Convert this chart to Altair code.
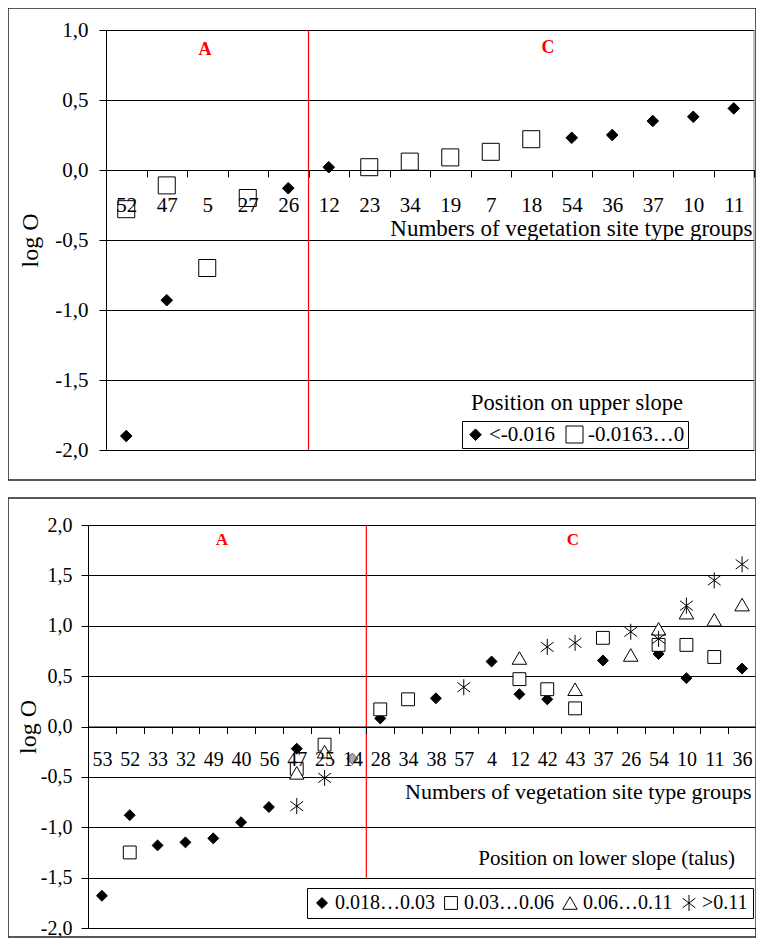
import altair as alt
import pandas as pd

FONT = "Liberation Serif"

# ---------------- data: upper slope ----------------
top_cats = ["52", "47", "5", "27", "26", "12", "23", "34", "19", "7", "18", "54", "36", "37", "10", "11"]
top_labels = ["<-0.016", "-0.0163…0"]
top_diamond = [-1.90, -0.93, None, None, -0.13, 0.02, None, None, None, None, None, 0.23, 0.25, 0.35, 0.38, 0.44]
top_square = [-0.28, -0.11, -0.70, -0.20, None, None, 0.02, 0.06, 0.09, 0.13, 0.22, None, None, None, None, None]
top_boundary = "12"
top_ticks = [-2.0, -1.5, -1.0, -0.5, 0.0, 0.5, 1.0]

# ---------------- data: lower slope (talus) ----------------
bot_cats = ["53", "52", "33", "32", "49", "40", "56", "47", "25", "14", "28", "34",
            "38", "57", "4", "12", "42", "43", "37", "26", "54", "10", "11", "36"]
bot_labels = ["0.018…0.03", "0.03…0.06", "0.06…0.11", ">0.11"]
bot_s1 = [-1.68, -0.88, -1.18, -1.15, -1.11, -0.95, -0.80, -0.22, None, -0.32, 0.08, None,
          0.28, None, 0.645, 0.32, 0.27, None, 0.655, None, 0.72, 0.48, None, 0.575]
bot_s2 = [None, -1.25, None, None, None, None, None, -0.42, -0.18, None, 0.17, 0.27,
          None, None, None, 0.47, 0.37, 0.18, 0.88, None, 0.81, 0.81, 0.69, None]
bot_s3 = [None, None, None, None, None, None, None, -0.46, -0.25, None, None, None,
          None, None, None, 0.68, None, 0.37, None, 0.71, 0.97, 1.13, 1.06, 1.21]
bot_s4 = [None, None, None, None, None, None, None, -0.79, -0.51, None, None, None,
          None, 0.39, None, None, 0.79, 0.83, None, 0.94, 0.87, 1.20, 1.45, 1.61]
bot_grey = ["14"]
bot_boundary = "28"
bot_ticks = [-2.0, -1.5, -1.0, -0.5, 0.0, 0.5, 1.0, 1.5, 2.0]

ASTER = "M0,-1L0,1M-0.8,-0.6L0.8,0.6M-0.8,0.6L0.8,-0.6"
YLAB = "(datum.value < 0 ? '-' : '') + replace(format(abs(datum.value), '.1f'), '.', ',')"

W, H = 668, 898  # whole drawing area shared by both panels


def to_long(cats, series, labels):
    rows = []
    for lab, vals in zip(labels, series):
        for c, v in zip(cats, vals):
            if v is not None:
                rows.append({"cat": c, "series": lab, "v": v})
    return pd.DataFrame(rows)


def panel(cats, df, labels, shapes, fills, sizes, boundary, rule_top, rule_bottom,
          x_range, y_range, ticks, fs, note_fs, xtitle_fs, x_label_pad, y_label_pad, ytitle_x,
          xtitle_x, xtitle_y, leg_x, leg_y, leg_pad, leg_colpad, border, zoneA, zoneC, zone_fs,
          note, note_pos, note_align, grey=None):
    ymin, ymax = ticks[0], ticks[-1]
    ybot, ytop = y_range
    axis_px = ytop + (ybot - ytop) * ymax / (ymax - ymin)
    xaxis = alt.Axis(orient="bottom", offset=axis_px - H, title="Numbers of vegetation site type groups",
                     titleX=xtitle_x, titleY=xtitle_y, titleAlign="right", titleBaseline="middle",
                     titleFont=FONT, titleFontSize=xtitle_fs, titleFontWeight="normal", titleColor="black",
                     labelFont=FONT, labelFontSize=fs, labelColor="black", labelAngle=0,
                     labelPadding=x_label_pad, labelOverlap=False, tickSize=7, tickBand="extent",
                     domainColor="black", tickColor="black", grid=False, zindex=1)
    xscale = alt.Scale(type="band", domain=cats, range=list(x_range), paddingInner=0, paddingOuter=0)
    yaxis = alt.Axis(orient="left", offset=-x_range[0], values=ticks, labelExpr=YLAB, title="log O",
                     titleX=ytitle_x, titleY=(ybot + ytop) / 2,
                     titleAngle=270, titleBaseline="middle", titleAlign="center",
                     titleFont=FONT, titleFontSize=24, titleFontWeight="normal", titleColor="black",
                     labelFont=FONT, labelFontSize=fs, labelColor="black", labelPadding=y_label_pad,
                     tickSize=7, domainColor="black", tickColor="black",
                     grid=True, gridColor="black", gridWidth=1, gridOpacity=1)
    yscale = alt.Scale(domain=[ymin, ymax], range=[ybot, ytop], nice=False, zero=False)

    def X(**kw):
        return alt.X("cat:N", scale=xscale, axis=xaxis, **kw)

    def Y():
        return alt.Y("v:Q", scale=yscale, axis=yaxis)

    bx0, bx1, by0, by1 = border
    frame = alt.Chart(pd.DataFrame({"k": [0]})).mark_rect(
        fill="transparent", stroke="#222222", strokeWidth=1.5
    ).encode(x=alt.value(bx0), x2=alt.value(bx1), y=alt.value(by0), y2=alt.value(by1))

    edge = alt.Chart(pd.DataFrame({"cat": [cats[-1]], "v": [ymax], "v2": [ymin]})).mark_rule(
        color="#808080", strokeWidth=1
    ).encode(x=X(bandPosition=1), y=Y(), y2="v2:Q")

    rule = alt.Chart(pd.DataFrame({"cat": [boundary], "v": [rule_top], "v2": [rule_bottom]})).mark_rule(
        color="#ff0000", strokeWidth=1.2
    ).encode(x=X(bandPosition=0), y=Y(), y2="v2:Q")

    leg = alt.Legend(title=None, orient="none", legendX=leg_x, legendY=leg_y, direction="horizontal",
                     strokeColor="black", fillColor="white", padding=leg_pad,
                     labelFont=FONT, labelFontSize=fs, labelColor="black", labelOffset=3,
                     columnPadding=leg_colpad, symbolOpacity=1, symbolStrokeWidth=1)
    pts = alt.Chart(df).mark_point(opacity=1, stroke="black", strokeWidth=1).encode(
        x=X(), y=Y(),
        shape=alt.Shape("series:N", scale=alt.Scale(domain=labels, range=shapes), legend=leg),
        fill=alt.Fill("series:N", scale=alt.Scale(domain=labels, range=fills), legend=leg),
        size=alt.Size("series:N", scale=alt.Scale(domain=labels, range=sizes), legend=leg),
    )
    layers = [frame, edge, rule, pts]
    if grey:
        gdf = df[(df["cat"].isin(grey)) & (df["series"] == labels[0])]
        layers.append(alt.Chart(gdf).mark_point(shape="diamond", filled=True, fill="#a8a8a8",
                                                stroke="#808080", strokeWidth=1, size=sizes[0], opacity=1)
                      .encode(x=X(), y=Y()))
    for txt, pos in (("A", zoneA), ("C", zoneC)):
        layers.append(alt.Chart(pd.DataFrame({"t": [txt]})).mark_text(
            color="#ff0000", fontWeight="bold", font=FONT, fontSize=zone_fs, baseline="middle"
        ).encode(text="t:N", x=alt.value(pos[0]), y=alt.value(pos[1])))
    layers.append(alt.Chart(pd.DataFrame({"t": [note]})).mark_text(
        color="black", font=FONT, fontSize=note_fs, align=note_align, baseline="middle"
    ).encode(text="t:N", x=alt.value(note_pos[0]), y=alt.value(note_pos[1])))
    return alt.layer(*layers)


top_df = to_long(top_cats, [top_diamond, top_square], top_labels)
bot_df = to_long(bot_cats, [bot_s1, bot_s2, bot_s3, bot_s4], bot_labels)

top = panel(top_cats, top_df, top_labels, ["diamond", "square"], ["black", "white"], [135, 289],
            top_boundary, 1.0, -2.0,
            x_range=(18, 666), y_range=(420, 0), ticks=top_ticks, fs=21, note_fs=22.5, xtitle_fs=23,
            x_label_pad=17, y_label_pad=11, ytitle_x=-76, xtitle_x=664, xtitle_y=58,
            leg_x=374, leg_y=391, leg_pad=3, leg_colpad=8, border=(-80, 668, -22, 450),
            zoneA=(117, 20), zoneC=(460, 18), zone_fs=18,
            note="Position on upper slope", note_pos=(489, 373), note_align="center")

bot = panel(bot_cats, bot_df, bot_labels, ["diamond", "square", "triangle-up", ASTER],
            ["black", "white", "white", "white"], [120, 256, 256, 272],
            bot_boundary, 2.0, -1.5,
            x_range=(0, 668), y_range=(898, 495), ticks=bot_ticks, fs=20, note_fs=21, xtitle_fs=22,
            x_label_pad=16, y_label_pad=9, ytitle_x=-60, xtitle_x=663, xtitle_y=65,
            leg_x=219, leg_y=858, leg_pad=5, leg_colpad=6, border=(-80, 668, 468, 907),
            zoneA=(134, 510), zoneC=(485, 510), zone_fs=17,
            note="Position on lower slope (talus)", note_pos=(647, 829), note_align="right",
            grey=bot_grey)

chart = alt.layer(top, bot).resolve_scale(
    x="independent", y="independent", shape="independent", fill="independent", size="independent"
).resolve_axis(x="independent", y="independent").resolve_legend(
    shape="independent", fill="independent", size="independent"
).properties(
    width=W, height=H,
    autosize=alt.AutoSizeParams(type="none"),
    padding={"left": 80, "top": 22, "right": 0, "bottom": 10},
).configure(font=FONT).configure_axis(
    labelFont=FONT, titleFont=FONT
).configure_legend(labelFont=FONT).configure_text(font=FONT).configure_view(stroke="transparent")

chart.save("out.html", embed_options={"renderer": "svg", "actions": False})
